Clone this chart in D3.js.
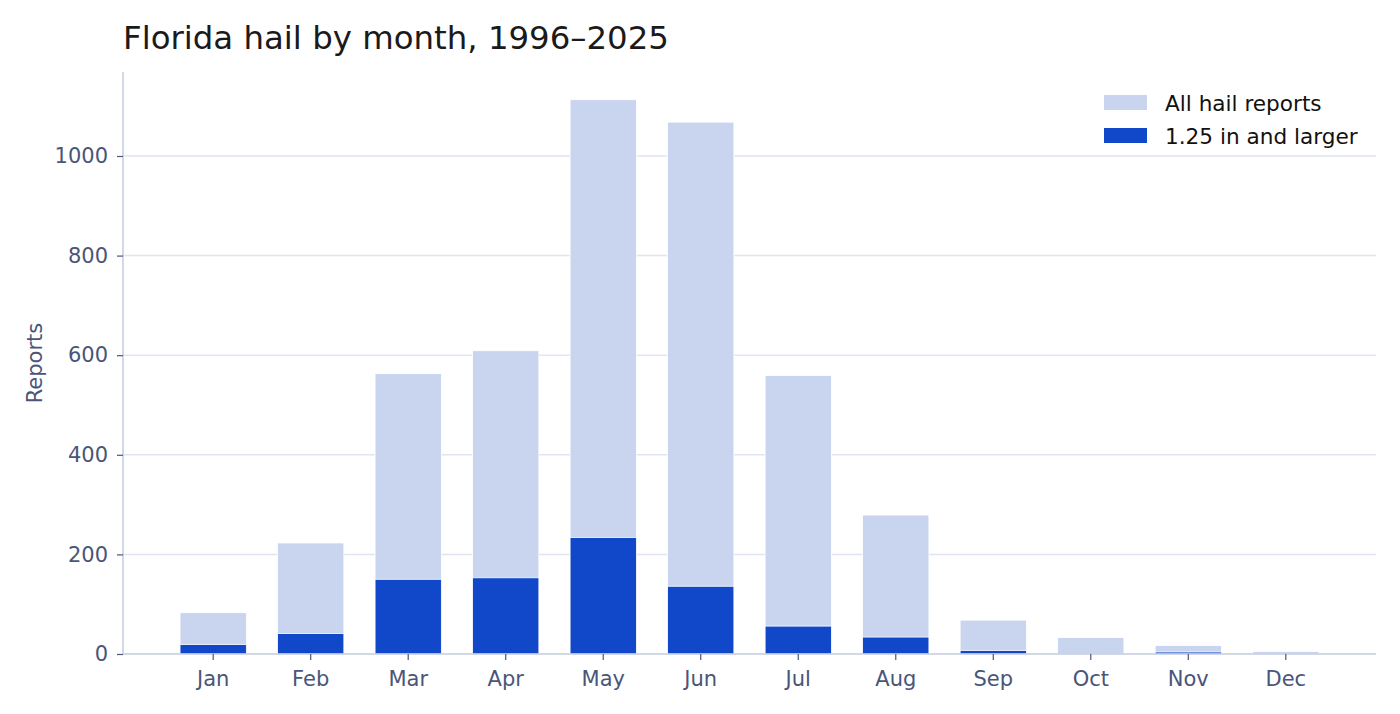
<!DOCTYPE html>
<html>
<head>
<meta charset="utf-8">
<script src="https://cdn.jsdelivr.net/npm/d3@7"></script>
<style>
  body { margin: 0; background: #fff; }
  text { font-family: "DejaVu Sans", sans-serif; }
</style>
</head>
<body>
<script>
// chart data
var months = ["Jan", "Feb", "Mar", "Apr", "May", "Jun", "Jul", "Aug", "Sep", "Oct", "Nov", "Dec"];
var allReports = [83, 223, 563, 609, 1113, 1068, 559, 279, 68, 33, 17, 5];
var largeReports = [19, 41, 150, 153, 234, 136, 56, 34, 7, 0, 4, 0];
var yTicks = [0, 200, 400, 600, 800, 1000];
var seriesNames = ["All hail reports", "1.25 in and larger"];

var width = 1400,
    height = 714;
var margin = {top: 72, right: 24, bottom: 60, left: 123};

var lightColor = "#c9d5ef",
    darkColor = "#1147c9",
    textColor = "#4a5578",
    axisColor = "#c5cbdf",
    gridColor = "#e1e4f3";

var svg = d3.select("body")
    .append("svg")
    .attr("width", width)
    .attr("height", height);

var x = d3.scaleBand()
    .domain(months)
    .range([margin.left, width - margin.right])
    .paddingInner(0.32)
    .paddingOuter(0.585);

var y = d3.scaleLinear()
    .domain([0, d3.max(allReports) * 1.05])
    .range([height - margin.bottom, margin.top]);

//gridlines
svg.append("g")
    .selectAll("line")
    .data(yTicks.slice(1))
    .enter()
    .append("line")
    .attr("x1", margin.left)
    .attr("x2", width - margin.right)
    .attr("y1", function(d){ return y(d); })
    .attr("y2", function(d){ return y(d); })
    .attr("stroke", gridColor)
    .attr("stroke-width", 1.5);

//all reports bars
svg.append("g")
    .selectAll("rect")
    .data(allReports)
    .enter()
    .append("rect")
    .attr("x", function(d, i){ return x(months[i]); })
    .attr("width", x.bandwidth())
    .attr("y", function(d){ return y(d); })
    .attr("height", function(d){ return y(0) - y(d); })
    .attr("fill", lightColor)
    .attr("stroke", "#fff")
    .attr("stroke-width", 0.8);

//large hail bars drawn over them
svg.append("g")
    .selectAll("rect")
    .data(largeReports)
    .enter()
    .append("rect")
    .attr("x", function(d, i){ return x(months[i]); })
    .attr("width", x.bandwidth())
    .attr("y", function(d){ return y(d); })
    .attr("height", function(d){ return y(0) - y(d); })
    .attr("fill", darkColor)
    .attr("stroke", "#fff")
    .attr("stroke-width", 0.8);

//x axis
var xAxis = svg.append("g")
    .attr("transform", "translate(0," + y(0) + ")")
    .call(d3.axisBottom(x).tickSize(6).tickPadding(11));
xAxis.select(".domain")
    .attr("d", "M" + margin.left + ",0H" + (width - margin.right))
    .attr("stroke", axisColor)
    .attr("stroke-width", 1.5);
xAxis.selectAll(".tick line").attr("stroke", textColor).attr("stroke-width", 1.2);
xAxis.selectAll(".tick text")
    .attr("fill", textColor)
    .style("font-size", "21px")
    .style("font-family", "DejaVu Sans, sans-serif");

//y axis
var yAxis = svg.append("g")
    .attr("transform", "translate(" + margin.left + ",0)")
    .call(d3.axisLeft(y).tickValues(yTicks).tickFormat(d3.format("d")).tickSize(6).tickPadding(9));
yAxis.select(".domain")
    .attr("d", "M0," + y(0) + "V" + margin.top)
    .attr("stroke", axisColor)
    .attr("stroke-width", 1.5);
yAxis.selectAll(".tick line").attr("stroke", textColor).attr("stroke-width", 1.2);
yAxis.selectAll(".tick text")
    .attr("fill", textColor)
    .style("font-size", "21px")
    .style("font-family", "DejaVu Sans, sans-serif");

//y label
svg.append("text")
    .attr("transform", "translate(42," + ((margin.top + y(0)) / 2) + ") rotate(-90)")
    .attr("text-anchor", "middle")
    .attr("fill", textColor)
    .style("font-size", "21px")
    .text("Reports");

//title
svg.append("text")
    .attr("x", margin.left)
    .attr("y", 49)
    .attr("fill", "#1a1a1a")
    .style("font-size", "32.4px")
    .text("Florida hail by month, 1996\u20132025");

//legend
var legend = svg.append("g")
    .selectAll("g")
    .data(seriesNames)
    .enter()
    .append("g")
    .attr("transform", function(d, i){ return "translate(1104," + (95 + i * 33) + ")"; });
legend.append("rect")
    .attr("width", 43)
    .attr("height", 15)
    .attr("fill", function(d, i){ return i === 0 ? lightColor : darkColor; });
legend.append("text")
    .attr("x", 61)
    .attr("y", 15.5)
    .attr("fill", "#111")
    .style("font-size", "21.6px")
    .text(function(d){ return d; });
</script>
</body>
</html>
